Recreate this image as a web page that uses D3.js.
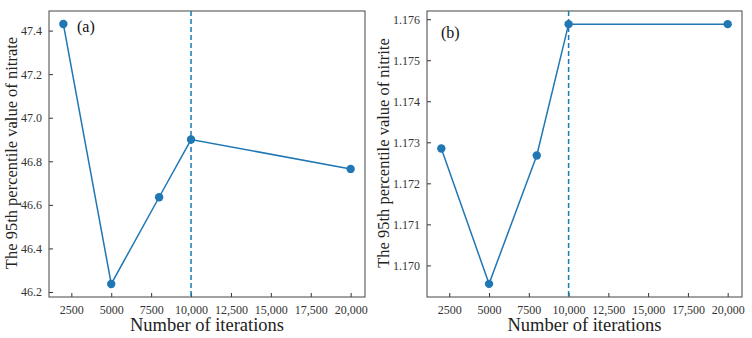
<!DOCTYPE html>
<html>
<head>
<meta charset="utf-8">
<script src="https://cdn.jsdelivr.net/npm/d3@7"></script>
<style>
  body { margin: 0; background: #fff; }
  svg, svg text { font-family: "Liberation Serif", serif !important; }
</style>
</head>
<body>
<svg id="chart"></svg>
<script>
let iterations = [2000, 5000, 8000, 10000, 20000];
let nitrate = [47.43, 46.237, 46.635, 46.90, 46.765];
let nitrite = [1.17285, 1.16955, 1.17268, 1.17588, 1.17588];
let xTicks = [2500, 5000, 7500, 10000, 12500, 15000, 17500, 20000];
let nitrateTicks = [46.2, 46.4, 46.6, 46.8, 47.0, 47.2, 47.4];
let nitriteTicks = [1.170, 1.171, 1.172, 1.173, 1.174, 1.175, 1.176];
let markLine = 10000;

let w = 752, h = 338;
let blue = "#1f77b4";
let svg = d3.select("#chart").attr("width", w).attr("height", h);

let fmtX = d => d >= 10000 ? d3.format(",")(d) : String(d);

function drawPanel(opt) {
    let g = svg.append("g");
    let x = d3.scaleLinear().domain([1100, 20900]).range([opt.left, opt.right]);
    let y = d3.scaleLinear().domain(opt.yDomain).range([297, 11]);

    // axes, ticks pointing inward
    g.append("g")
        .attr("transform", `translate(0,297)`)
        .call(d3.axisBottom(x).tickValues(xTicks).tickSize(-4).tickPadding(8).tickFormat(fmtX))
        .call(a => a.select(".domain").remove());
    g.append("g")
        .attr("transform", `translate(${opt.left},0)`)
        .call(d3.axisLeft(y).tickValues(opt.yTicks).tickSize(-4).tickPadding(7).tickFormat(opt.fmt))
        .call(a => a.select(".domain").remove());
    g.selectAll("g").attr("font-family", null);
    g.selectAll(".tick line").attr("stroke", "#333");
    g.selectAll(".tick text")
        .attr("fill", "#333")
        .style("font-size", "12px");

    g.append("rect")
        .attr("x", opt.left).attr("y", 11)
        .attr("width", opt.right - opt.left).attr("height", 286)
        .attr("fill", "none").attr("stroke", "#444").attr("stroke-width", 1);

    g.append("line")
        .attr("x1", x(markLine)).attr("x2", x(markLine))
        .attr("y1", 11).attr("y2", 297)
        .attr("stroke", blue).attr("stroke-width", 1.5)
        .attr("stroke-dasharray", "5,3");

    let pts = iterations.map((d, i) => [d, opt.values[i]]);
    g.append("path")
        .datum(pts)
        .attr("fill", "none").attr("stroke", blue).attr("stroke-width", 1.5)
        .attr("d", d3.line().x(d => x(d[0])).y(d => y(d[1])));
    g.selectAll("circle.pt")
        .data(pts)
        .enter()
        .append("circle")
        .attr("cx", d => x(d[0])).attr("cy", d => y(d[1]))
        .attr("r", 4.2).attr("fill", blue);

    g.append("text")
        .attr("x", opt.left + opt.tagDx).attr("y", opt.tagY)
        .style("font-size", "16px").attr("fill", "#111")
        .text(opt.tag);

    g.append("text")
        .attr("x", (opt.left + opt.right) / 2).attr("y", 331)
        .attr("text-anchor", "middle")
        .style("font-size", "18.5px").attr("fill", "#222")
        .text("Number of iterations");

    g.append("text")
        .attr("transform", `translate(${opt.labelX},153) rotate(-90)`)
        .attr("text-anchor", "middle")
        .style("font-size", "16.5px").attr("fill", "#222")
        .text(opt.ylabel);
}

drawPanel({
    left: 49, right: 365,
    yDomain: [46.177, 47.49],
    yTicks: nitrateTicks, fmt: d3.format(".1f"),
    values: nitrate, tag: "(a)", tagDx: 28, tagY: 32,
    labelX: 17, ylabel: "The 95th percentile value of nitrate"
});

drawPanel({
    left: 427, right: 742,
    yDomain: [1.16923, 1.1762],
    yTicks: nitriteTicks, fmt: d3.format(".3f"),
    values: nitrite, tag: "(b)", tagDx: 14, tagY: 38,
    labelX: 389, ylabel: "The 95th percentile value of nitrite"
});
</script>
</body>
</html>
